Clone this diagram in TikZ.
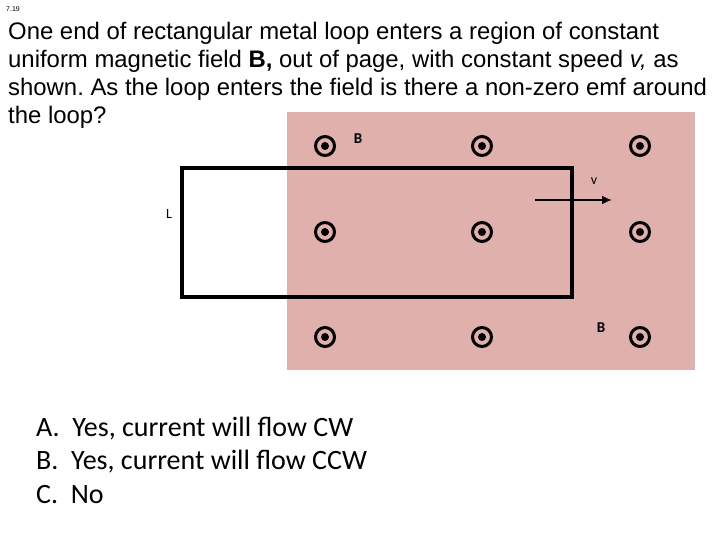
\documentclass[tikz,border=0pt]{standalone}
\usetikzlibrary{arrows.meta}
\usepackage{fontspec}
\setmainfont{Liberation Sans}
\newfontfamily\calib{Carlito}
\begin{document}
\begin{tikzpicture}[x=1pt,y=-1pt,
 txt/.style={anchor=west,inner sep=0pt,font=\fontsize{23.9}{28}\selectfont},
 opt/.style={anchor=west,inner sep=0pt,font=\calib\fontsize{28}{32}\selectfont},
 lab/.style={inner sep=0pt,font=\calib\fontsize{14}{16}\selectfont},
 dotout/.style={circle,draw=black,line width=3pt,minimum size=19pt,inner sep=0pt}]
\useasboundingbox (0,0) rectangle (720,540);
\node[anchor=west,inner sep=0pt,font=\fontsize{7}{8}\selectfont] (num) at (6,9) {7.19};
\fill[fill={rgb,255:red,224;green,176;blue,172}] (287,112) rectangle (695,370);
\node[txt] (l1) at (8,33) {One end of rectangular metal loop enters a region of constant};
\node[txt] (l2) at (8,61) {uniform magnetic field \textbf{B,} out of page, with constant speed \textit{v,} as};
\node[txt] (l3) at (8,89) {shown.\ As the loop enters the field is there a non-zero emf around};
\node[txt] (l4) at (8,117) {the loop?};
\foreach \x in {325,482,640}{\foreach \y in {146,232,337}{
  \node[dotout] (d\x\y) at (\x,\y) {};
  \fill (\x,\y) circle (4pt);}}
\draw[line width=3.5pt] (182,168) rectangle (572,297);
\coordinate (a1) at (535,200); \coordinate (a2) at (612,200);
\draw[line width=2pt,-{Latex[length=10pt,width=9pt]}] (a1) -- (a2);
\node[lab] (v) at (594,181) {v};
\node[lab] (L) at (169,214) {L};
\node[lab,font=\calib\bfseries\fontsize{15}{16}\selectfont] (B1) at (358,139) {B};
\node[lab,font=\calib\bfseries\fontsize{15}{16}\selectfont] (B2) at (601,328) {B};
\node[opt] (A) at (36,429) {A.\ \ Yes, current will flow CW};
\node[opt] (Bo) at (36,462) {B.\ \ Yes, current will flow CCW};
\node[opt] (C) at (36,495) {C.\ \ No};
\end{tikzpicture}
\end{document}
